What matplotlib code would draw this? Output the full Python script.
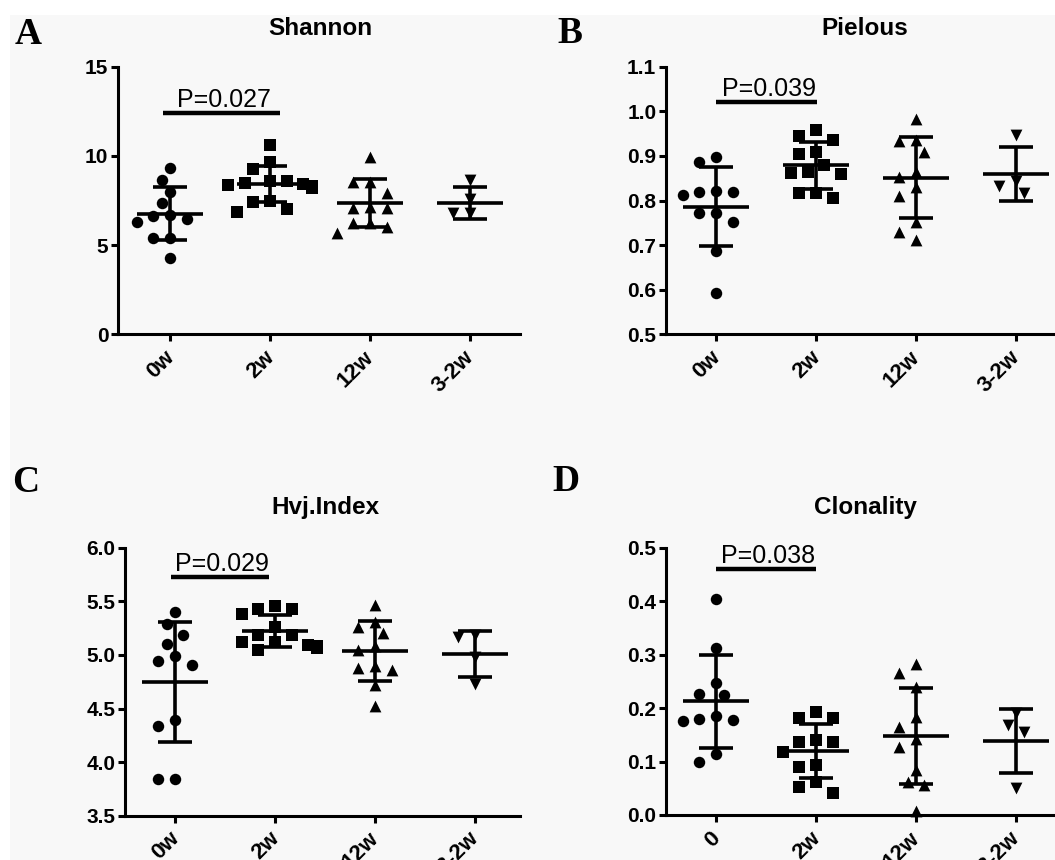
import numpy as np
import matplotlib.pyplot as plt
import matplotlib.transforms as mtransforms
from matplotlib.patches import Rectangle

plt.rcParams['font.family'] = ['Liberation Sans', 'DejaVu Sans']

groups = ['0w', '2w', '12w', '3-2w']
groups_d = ['0', '2w', '12w', '3-2w']

# Shannon
shannon = [
    [9.30, 8.65, 7.99, 7.34, 6.69, 6.45, 6.63, 6.31, 5.42, 5.42, 4.30],
    [10.6, 9.65, 9.25, 8.60, 8.45, 8.30, 8.20, 8.35, 8.50, 8.62, 7.45, 7.40, 6.85, 7.00],
    [9.96, 8.56, 8.56, 7.94, 7.06, 7.15, 7.06, 6.26, 6.26, 6.03, 5.66],
    [8.65, 7.58, 6.78, 6.78],
]
shannon_mean = [6.76, 8.43, 7.36, 7.35]
shannon_sd = [1.50, 1.03, 1.33, 0.90]

# Pielous
pielous = [
    [0.898, 0.886, 0.821, 0.818, 0.812, 0.818, 0.773, 0.773, 0.751, 0.687, 0.592],
    [0.958, 0.945, 0.936, 0.904, 0.908, 0.880, 0.861, 0.860, 0.865, 0.817, 0.816, 0.805],
    [0.983, 0.936, 0.933, 0.909, 0.865, 0.853, 0.831, 0.811, 0.752, 0.730, 0.711],
    [0.947, 0.844, 0.833, 0.816],
]
pielous_mean = [0.786, 0.879, 0.851, 0.860]
pielous_sd = [0.088, 0.053, 0.091, 0.060]

# Hvj.Index
hvj = [
    [5.40, 5.285, 5.19, 5.10, 4.99, 4.94, 4.91, 4.39, 4.34, 3.84, 3.84],
    [5.46, 5.43, 5.43, 5.38, 5.26, 5.19, 5.19, 5.12, 5.12, 5.09, 5.08, 5.05, 5.06],
    [5.47, 5.31, 5.26, 5.20, 5.08, 5.05, 4.90, 4.88, 4.86, 4.72, 4.52],
    [5.17, 5.19, 4.98, 4.73],
]
hvj_mean = [4.75, 5.22, 5.04, 5.005]
hvj_sd = [0.56, 0.15, 0.28, 0.215]

# Clonality
clonality = [
    [0.404, 0.312, 0.246, 0.224, 0.226, 0.186, 0.178, 0.175, 0.180, 0.114, 0.100],
    [0.182, 0.182, 0.193, 0.140, 0.137, 0.137, 0.117, 0.0935, 0.090, 0.062, 0.053, 0.042],
    [0.282, 0.265, 0.240, 0.184, 0.165, 0.142, 0.128, 0.084, 0.061, 0.056, 0.0075],
    [0.190, 0.168, 0.155, 0.051],
]
clonality_mean = [0.2125, 0.120, 0.148, 0.138]
clonality_sd = [0.0865, 0.050, 0.090, 0.060]

p_labels = ['P=0.027', 'P=0.039', 'P=0.029', 'P=0.038']
p_bar_y = [12.42, 1.021, 5.73, 0.461]
p_bar_x = [(-0.07, 1.10), (0.0, 1.01), (-0.04, 0.94), (0.0, 1.0)]

W, H = 1055, 860
fig = plt.figure(figsize=(W / 100, H / 100), dpi=100, facecolor='white')
fig.patches.append(Rectangle((10 / W, 0), 1 - 10 / W, 1 - 15 / H, transform=fig.transFigure,
                             facecolor='#f8f8f8', edgecolor='none', zorder=-10))

markers = ['o', 's', '^', 'v']
msizes = [68, 72, 72, 72]


def px_axes(left, top, right, bottom):
    return fig.add_axes([left / W, 1 - bottom / H, (right - left) / W, (bottom - top) / H])


def swarm(ax, x0, vals, step=1 / 12, min_px=14):
    # spread points sideways so they don't overlap (prism style)
    order = np.argsort(vals)[::-1]
    placed = []
    xs = np.zeros(len(vals))
    for idx in order:
        v = vals[idx]
        for k in [0, -1, 1, -2, 2, -3, 3, -4, 4, -5, 5]:
            xd, yd = ax.transData.transform((x0 + k * step, v))
            if all(np.hypot(xd - px, yd - py) >= min_px for px, py in placed):
                break
        placed.append((xd, yd))
        xs[idx] = x0 + k * step
    return xs


def panel(rect, xlim, ylim, yticks, fmt, labels, data, means, sds, pi):
    ax = px_axes(*rect)
    ax.set_facecolor('none')
    ax.set_xlim(xlim)
    ax.set_ylim(ylim)
    for s in ['top', 'right']:
        ax.spines[s].set_visible(False)
    for s in ['left', 'bottom']:
        ax.spines[s].set_linewidth(2.2)
    ax.set_yticks(yticks)
    ax.set_yticklabels([fmt.format(t) for t in yticks])
    ax.set_xticks(range(len(labels)))
    ax.set_xticklabels(labels, rotation=45, ha='right')
    ax.tick_params(direction='out', length=5, width=2.2, labelsize=15, pad=2)
    ax.tick_params(axis='x', labelsize=16, pad=4)
    shift = mtransforms.ScaledTranslation(6 / 72, 0, fig.dpi_scale_trans)
    for lab in ax.get_xticklabels():
        lab.set_transform(lab.get_transform() + shift)
    for lab in ax.get_xticklabels() + ax.get_yticklabels():
        lab.set_fontweight('bold')

    for i, vals in enumerate(data):
        xs = swarm(ax, i, vals)
        ax.scatter(xs, vals, marker=markers[i], s=msizes[i], color='black',
                   linewidths=0, zorder=2, clip_on=False)
        m, sd = means[i], sds[i]
        kw = dict(color='black', lw=2.6, solid_capstyle='butt', zorder=3)
        ax.plot([i - 0.333, i + 0.333], [m, m], **kw)
        ax.plot([i - 0.167, i + 0.167], [m + sd, m + sd], **kw)
        ax.plot([i - 0.167, i + 0.167], [m - sd, m - sd], **kw)
        ax.plot([i, i], [m - sd, m + sd], **kw)

    x0, x1 = p_bar_x[pi]
    ax.plot([x0, x1], [p_bar_y[pi]] * 2, color='black', lw=3.2, solid_capstyle='butt', clip_on=False)
    ax.annotate(p_labels[pi], xy=((x0 + x1) / 2 + 0.02, p_bar_y[pi]), xytext=(0, 4),
                textcoords='offset points', ha='center', va='baseline', fontsize=18)
    return ax


panel((118, 66.7, 520, 334.3), (-0.52, 3.5), (0, 15), [0, 5, 10, 15], '{:.0f}',
      groups, shannon, shannon_mean, shannon_sd, 0)
panel((666, 66.7, 1055, 334.3), (-0.5, 3.39), (0.5, 1.1), np.arange(0.5, 1.101, 0.1), '{:.1f}',
      groups, pielous, pielous_mean, pielous_sd, 1)
panel((125, 547.7, 520, 815.7), (-0.5, 3.45), (3.5, 6.0), np.arange(3.5, 6.01, 0.5), '{:.1f}',
      groups, hvj, hvj_mean, hvj_sd, 2)
panel((666, 547.7, 1055, 815), (-0.5, 3.39), (0, 0.5), np.arange(0, 0.501, 0.1), '{:.1f}',
      groups_d, clonality, clonality_mean, clonality_sd, 3)

# titles
for x, y, t in [(320, 35, 'Shannon'), (865, 35, 'Pielous'), (325, 514, 'Hvj.Index'), (865, 514, 'Clonality')]:
    fig.text(x / W, 1 - y / H, t, ha='center', va='baseline', fontsize=17.5, fontweight='bold')

# panel letters
for x, y, t in [(15, 44, 'A'), (557, 43, 'B'), (12, 492, 'C'), (552, 491, 'D')]:
    fig.text(x / W, 1 - y / H, t, ha='left', va='baseline', fontsize=27,
             fontweight='bold', family='Liberation Serif')

fig.savefig('out.png', dpi=100, facecolor=fig.get_facecolor())
